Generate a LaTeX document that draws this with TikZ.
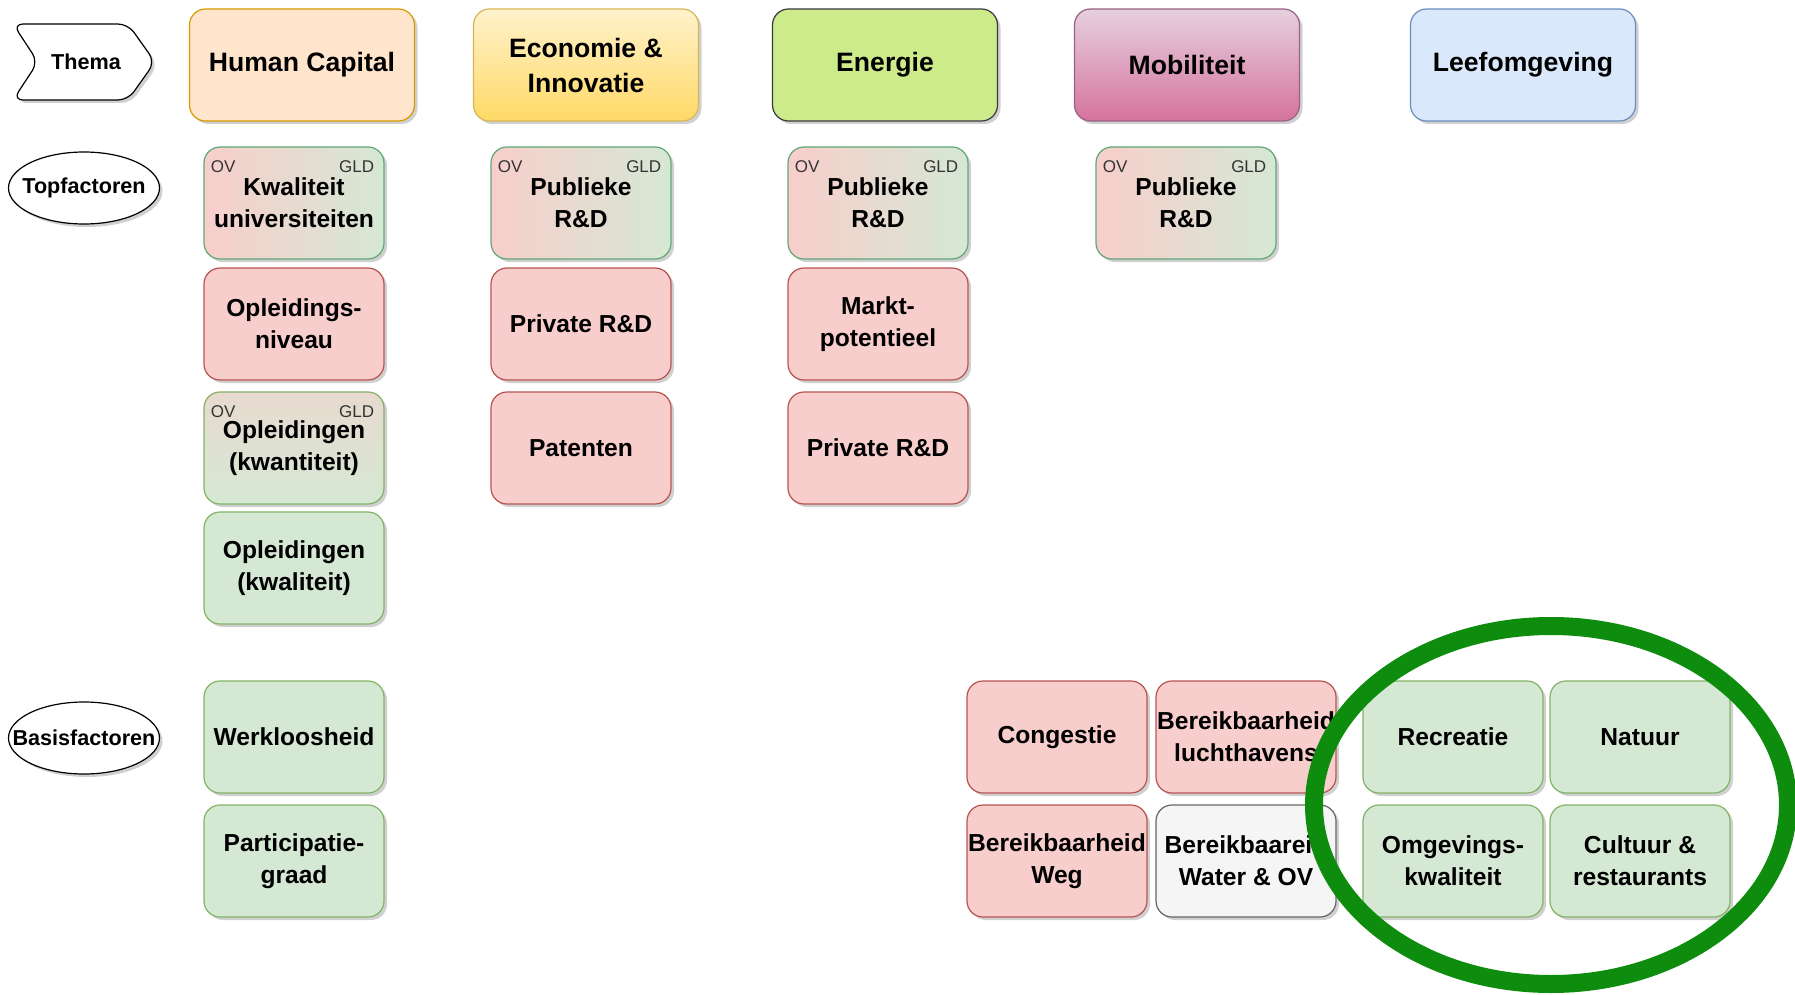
\documentclass[tikz,border=0pt]{standalone}
\usepackage{fontspec}
\setmainfont{Liberation Sans}
\usetikzlibrary{shapes.geometric,shadows}
\definecolor{rood}{HTML}{F8CECC}
\definecolor{roodrand}{HTML}{B85450}
\definecolor{groen}{HTML}{D5E8D4}
\definecolor{groenrand}{HTML}{82B366}
\definecolor{mixrand}{RGB}{96,168,118}
\definecolor{grijs}{HTML}{F5F5F5}
\definecolor{grijsrand}{HTML}{666666}
\definecolor{cirkel}{RGB}{14,140,14}
\tikzset{
  schaduw/.style={drop shadow={shadow xshift=1.5pt,shadow yshift=-1.5pt,opacity=0.3,fill=black!60}},
  basisbox/.style={rectangle,rounded corners=8pt,line width=0.6pt,inner sep=0pt,align=center,schaduw},
  themabox/.style={basisbox,minimum width=112.5pt,minimum height=56pt,font=\bfseries\fontsize{13.3}{17.5}\selectfont},
  factorbox/.style={basisbox,minimum width=90pt,minimum height=56pt,font=\bfseries\fontsize{12.3}{16}\selectfont},
  rodebox/.style={factorbox,fill=rood,draw=roodrand},
  groenebox/.style={factorbox,fill=groen,draw=groenrand},
  mixbox/.style={factorbox,left color=rood,right color=groen,draw=mixrand},
  grijzebox/.style={factorbox,fill=grijs,draw=grijsrand},
  rijtekst/.style={ellipse,draw,fill=white,line width=0.6pt,inner sep=0pt,minimum width=75.5pt,minimum height=36pt,schaduw,font=\bfseries\fontsize{10.8}{13}\selectfont},
  hoektekst/.style={inner sep=0pt,text=black!80,font=\fontsize{8.5}{10}\selectfont}
}
\begin{document}
\begin{tikzpicture}[x=0.5pt,y=-0.5pt]
  \useasboundingbox (0,0) rectangle (1795,995);
  \clip (0,0) rectangle (1795,995);
  \fill[white] (0,0) rectangle (1795,995);
  \draw[fill=white,line width=0.6pt,rounded corners=5pt,schaduw]
    (13,24) -- (128,24) -- (155,62) -- (128,100) -- (13,100) -- (38,62) -- cycle;
  \node[font=\bfseries\fontsize{10.8}{13}\selectfont] (thema) at (86,62) {Thema};
  \draw
    (84,188) node[rijtekst] (top){\makebox[0pt]{Topfactoren}}
    (84,738) node[rijtekst] (basis){\makebox[0pt]{Basisfactoren}};
  \draw
    (302,65) node[themabox,fill=orange!20,draw={rgb,255:red,215;green,155;blue,0}] (hc){Human Capital}
    (586,65) node[themabox,top color={rgb,255:red,255;green,242;blue,204},bottom color={rgb,255:red,255;green,217;blue,102},draw={rgb,255:red,214;green,182;blue,86}] (ei){Economie \&\\Innovatie}
    (885,65) node[themabox,fill={rgb,255:red,205;green,235;blue,139},draw={rgb,255:red,54;green,57;blue,61}] (en){Energie}
    (1187,65) node[themabox,top color={rgb,255:red,230;green,208;blue,222},bottom color={rgb,255:red,213;green,115;blue,157},draw={rgb,255:red,153;green,97;blue,133}] (mo){Mobiliteit}
    (1523,65) node[themabox,fill={rgb,255:red,218;green,232;blue,252},draw={rgb,255:red,108;green,142;blue,191}] (le){Leefomgeving};
  \draw
    (294,203) node[mixbox] (ku){Kwaliteit\\universiteiten}
    (294,324) node[rodebox] (on){Opleidings-\\niveau}
    (294,448) node[mixbox,top color=rood!55!groen,bottom color=groen,draw=groenrand] (ok){Opleidingen\\(kwantiteit)}
    (294,568) node[groenebox] (oq){Opleidingen\\(kwaliteit)}
    (581,203) node[mixbox] (pu2){Publieke\\R\&D}
    (581,324) node[rodebox] (pr2){Private R\&D}
    (581,448) node[rodebox] (pa){Patenten}
    (878,203) node[mixbox] (pu3){Publieke\\R\&D}
    (878,324) node[rodebox] (ma){Markt-\\potentieel}
    (878,448) node[rodebox] (pr3){Private R\&D}
    (1186,203) node[mixbox] (pu4){Publieke\\R\&D};
  \foreach \b in {ku,ok,pu2,pu3,pu4}{
    \node[hoektekst,anchor=base west] (\b-ov) at ([xshift=3.5pt,yshift=-13pt]\b.north west) {OV};
    \node[hoektekst,anchor=base east] (\b-gld) at ([xshift=-5pt,yshift=-13pt]\b.north east) {GLD};
  }
  \draw
    (294,737) node[groenebox] (we){Werkloosheid}
    (294,861) node[groenebox] (pg){Participatie-\\graad}
    (1057,737) node[rodebox] (co){Congestie}
    (1246,737) node[rodebox] (lu){Bereikbaarheid\\luchthavens}
    (1057,861) node[rodebox] (wg){Bereikbaarheid\\Weg}
    (1246,861) node[grijzebox] (wo){Bereikbaareid\\Water \& OV}
    (1453,737) node[groenebox] (re){Recreatie}
    (1640,737) node[groenebox] (na){Natuur}
    (1453,861) node[groenebox] (om){Omgevings-\\kwaliteit}
    (1640,861) node[groenebox] (cu){Cultuur \&\\restaurants};
  \draw[line width=9pt,draw=cirkel] (1551,805) ellipse [x radius=118.5pt,y radius=89.5pt];
\end{tikzpicture}
\end{document}
